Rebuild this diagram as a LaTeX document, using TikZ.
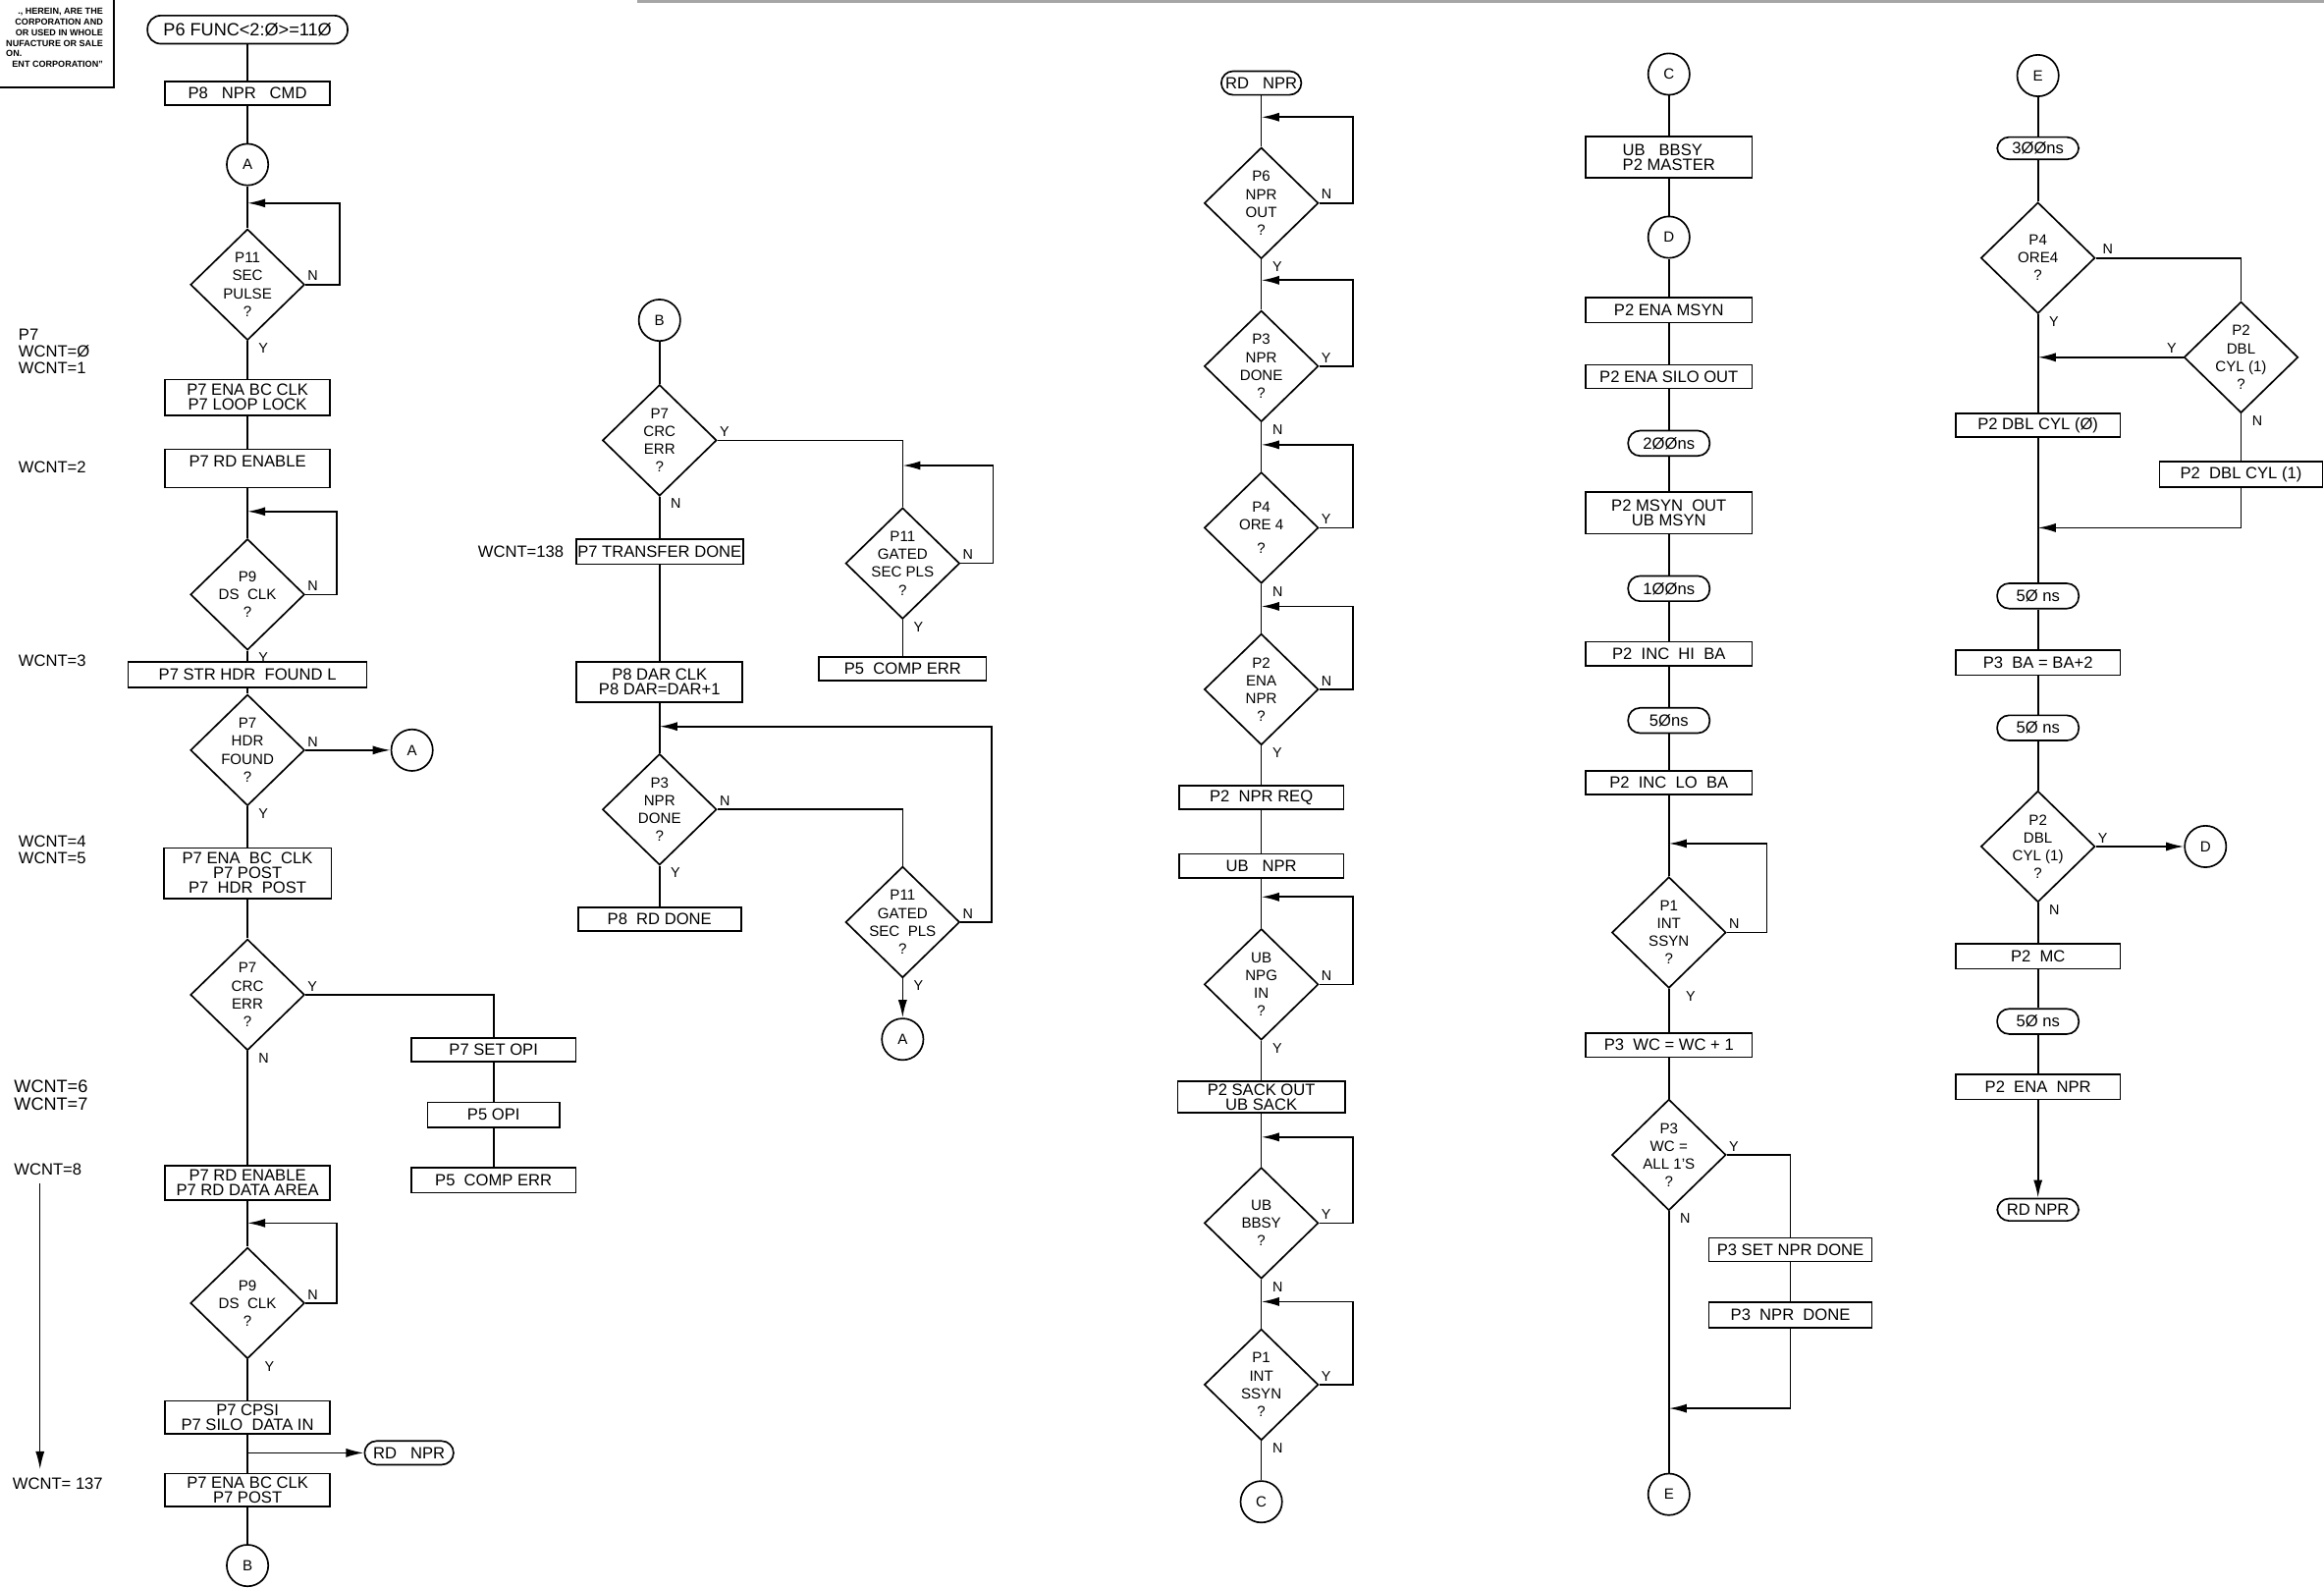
\documentclass[tikz,border=0pt]{standalone}
\usepackage{fontspec}
\setmainfont{Liberation Sans}
\usetikzlibrary{shapes.geometric,arrows.meta,positioning}

\begin{document}
\begin{tikzpicture}[
  x=1pt, y=-1pt, line width=1.1pt,
  blk/.style={draw, font=\fontsize{11}{10}\selectfont, minimum width=111pt, minimum height=17pt, inner sep=1pt, align=center},
  dec/.style={draw, diamond, aspect=1, font=\fontsize{10}{12}\selectfont, minimum width=77pt, minimum height=75pt, inner xsep=-12pt, inner ysep=-6pt, align=center},
  term/.style={draw, rounded corners=8pt, font=\fontsize{11}{10}\selectfont, minimum width=55pt, minimum height=17pt, inner sep=1pt},
  conn/.style={draw, circle, font=\fontsize{10}{10}\selectfont, minimum size=28pt, inner sep=0pt},
  arr/.style={-{Latex[length=12pt,width=6pt]}},
  lbl/.style={font=\fontsize{9.5}{9.5}\selectfont, inner sep=1pt},
  lbe/.style={lbl, anchor=south west, yshift=1pt},
  lbs/.style={lbl, anchor=north west, xshift=6pt},
  lbw/.style={lbl, anchor=south east, yshift=1pt},
  note/.style={font=\fontsize{11}{11}\selectfont, anchor=west, align=left, inner sep=0pt}
]
\useasboundingbox (0,0) rectangle (1568,1071);

% Proprietary notice (cut off at the sheet edge)
\draw (77,0) -- (77,59) -- (0,59);
\node[font=\fontsize{6}{7.2}\selectfont\bfseries, anchor=north east, inner sep=0pt] (legal) at (70,4)
  {\begin{tabular}{@{}r@{}}., HEREIN, ARE THE\\CORPORATION AND\\OR USED IN WHOLE\\NUFACTURE OR SALE\\\multicolumn{1}{@{}l@{}}{ON.}\\ENT CORPORATION"\end{tabular}};
\draw[gray!70, line width=2pt] (430,1) -- (1568,1);

% Column 1: header search and data read
\node[term, minimum width=135pt, minimum height=19pt, rounded corners=9pt, font=\fontsize{12}{12}\selectfont] (func) at (167,20) {P6 FUNC<2:Ø>=11Ø};
\node[blk, minimum height=16pt] (nprcmd) at (167,63) {P8\ \ \ NPR\ \ \ CMD};
\node[conn] (a1) at (167,111) {A};
\coordinate (j1) at (167,137);
\node[dec] (secpls) at (167,192) {P11\\SEC\\PULSE\\?};
\node[blk, minimum height=24pt] (lplock) at (167,268) {P7 ENA BC CLK\\P7 LOOP LOCK};
\node[blk, minimum height=26pt] (rden1) at (167,316) {P7 RD ENABLE\\\mbox{}};
\coordinate (j2) at (167,345);
\node[dec] (dsclk1) at (167,401) {P9\\DS\ \ CLK\\?};
\node[blk, minimum width=161pt] (strhdr) at (167,455) {P7 STR HDR\ \ FOUND L};
\node[dec] (hdrfnd) at (167,506) {P7\\HDR\\FOUND\\?};
\node[conn] (a2) at (278,506) {A};
\node[blk, minimum width=113pt, minimum height=34pt] (hdrpost) at (167,589) {P7 ENA\ \ BC\ \ CLK\\P7 POST\\P7\ \ HDR\ \ POST};
\node[dec] (crc1) at (167,671) {P7\\CRC\\ERR\\?};
\node[blk, minimum height=16pt] (setopi) at (333,708) {P7 SET OPI};
\node[blk, minimum width=89pt] (opi) at (333,752) {P5 OPI};
\node[blk] (comperr1) at (333,796) {P5\ \ COMP ERR};
\node[blk, minimum height=23pt] (rdarea) at (167,798) {P7 RD ENABLE\\P7 RD DATA AREA};
\coordinate (j3) at (167,825);
\node[dec] (dsclk2) at (167,879) {P9\\DS\ \ CLK\\?};
\node[blk, minimum height=22pt] (silo) at (167,956) {P7 CPSI\\P7 SILO\ \ DATA IN};
\coordinate (j4) at (167,980);
\node[term, minimum width=60pt, minimum height=16pt] (rdnpr1) at (276,980) {RD\ \ \ NPR};
\node[blk, minimum height=22pt] (post) at (167,1005) {P7 ENA BC CLK\\P7 POST};
\node[conn] (b1) at (167,1056) {B};

\foreach \u/\v in {func/nprcmd, nprcmd/a1, a1/secpls, secpls/lplock, lplock/rden1, rden1/dsclk1,
  dsclk1/strhdr, strhdr/hdrfnd, hdrfnd/hdrpost, hdrpost/crc1, crc1/rdarea, rdarea/dsclk2,
  dsclk2/silo, silo/post, post/b1, setopi/opi, opi/comperr1}
  \draw (\u) -- (\v);
\draw[arr] (secpls.east) -- ++(23,0) |- (j1);
\draw[arr] (dsclk1.east) -- ++(21,0) |- (j2);
\draw[arr] (dsclk2.east) -- ++(21,0) |- (j3);
\draw[arr] (hdrfnd.east) -- (a2.west);
\draw (crc1.east) -| (setopi.north);
\draw[arr] (j4) -- (rdnpr1.west);

\node[lbe] (secplsn) at (secpls.east) {N};
\node[lbs] (secplsy) at (secpls.south) {Y};
\node[lbe] (dsclk1n) at (dsclk1.east) {N};
\node[lbs] (dsclk1y) at (dsclk1.south) {Y};
\node[lbe] (hdrfndn) at (hdrfnd.east) {N};
\node[lbs] (hdrfndy) at (hdrfnd.south) {Y};
\node[lbe] (crc1y) at (crc1.east) {Y};
\node[lbs] (crc1n) at (crc1.south) {N};
\node[lbe] (dsclk2n) at (dsclk2.east) {N};
\node[lbs, xshift=4pt] (dsclk2y) at (dsclk2.south) {Y};

% Word count notes
\node[note] (wc01) at (12,237) {P7\\WCNT=Ø\\WCNT=1};
\node[note] (wc2) at (12,315) {WCNT=2};
\node[note] (wc3) at (12,446) {WCNT=3};
\node[note] (wc45) at (12,573) {WCNT=4\\WCNT=5};
\node[note, font=\fontsize{12}{12}\selectfont] (wc67) at (9,739) {WCNT=6\\WCNT=7};
\node[note] (wc8) at (9,789) {WCNT=8};
\node[note] (wc137) at (8,1001) {WCNT= 137};
\coordinate (w1) at (27,798);
\coordinate (w2) at (27,991);
\draw[arr, line width=0.8pt] (w1) -- (w2);

% Column 2: end of sector
\node[conn] (b2) at (445,216) {B};
\node[dec] (crc2) at (445,297) {P7\\CRC\\ERR\\?};
\node[note] (wc138) at (322,372) {WCNT=138};
\node[blk, minimum width=112pt, minimum height=17pt] (xferdone) at (445,372) {P7 TRANSFER DONE};
\node[blk, minimum width=112pt, minimum height=27pt] (darclk) at (445,460) {P8 DAR CLK\\P8 DAR=DAR+1};
\coordinate (j6) at (445,490);
\node[dec] (nprdn1) at (445,546) {P3\\NPR\\DONE\\?};
\node[blk, minimum width=110pt, minimum height=16pt] (rddone) at (445,620) {P8\ \ RD DONE};
\coordinate (j5) at (609,314);
\node[dec] (gated1) at (609,380) {P11\\GATED\\SEC PLS\\?};
\node[blk, minimum width=113pt, minimum height=16pt] (comperr2) at (609,451) {P5\ \ COMP ERR};
\node[dec] (gated2) at (609,622) {P11\\GATED\\SEC\ \ PLS\\?};
\node[conn] (a3) at (609,701) {A};

\foreach \u/\v in {b2/crc2, crc2/xferdone, xferdone/darclk, darclk/nprdn1, nprdn1/rddone, gated1/comperr2}
  \draw (\u) -- (\v);
\draw (crc2.east) -| (gated1.north);
\draw[arr] (gated1.east) -- ++(22,0) |- (j5);
\draw (nprdn1.east) -| (gated2.north);
\draw[arr] (gated2.east) -- ++(21,0) |- (j6);
\draw[arr] (gated2) -- (a3);

\node[lbe] (crc2y) at (crc2.east) {Y};
\node[lbs] (crc2n) at (crc2.south) {N};
\node[lbe] (gated1n) at (gated1.east) {N};
\node[lbs] (gated1y) at (gated1.south) {Y};
\node[lbe] (nprdn1n) at (nprdn1.east) {N};
\node[lbs] (nprdn1y) at (nprdn1.south) {Y};
\node[lbe] (gated2n) at (gated2.east) {N};
\node[lbs] (gated2y) at (gated2.south) {Y};

% Column 3: NPR request
\node[term, minimum width=54pt, minimum height=16pt] (rdnpr2) at (851,56) {RD\ \ \ NPR};
\coordinate (k1) at (851,79);
\node[dec] (nprout) at (851,137) {P6\\NPR\\OUT\\?};
\coordinate (k2) at (851,189);
\node[dec] (nprdn2) at (851,247) {P3\\NPR\\DONE\\?};
\coordinate (k3) at (851,300);
\node[dec] (ore1) at (851,356) {P4\\ORE 4\\[4pt]?};
\coordinate (k4) at (851,409);
\node[dec] (enanpr1) at (851,465) {P2\\ENA\\NPR\\?};
\node[blk, minimum height=16pt] (nprreq) at (851,538) {P2\ \ NPR REQ};
\node[blk, minimum height=16pt] (ubnpr) at (851,584) {UB\ \ \ NPR};
\coordinate (k5) at (851,605);
\node[dec] (npgin) at (851,664) {UB\\NPG\\IN\\?};
\node[blk, minimum width=113pt, minimum height=21pt] (sack) at (851,740) {P2 SACK OUT\\UB SACK};
\coordinate (k6) at (851,767);
\node[dec] (bbsy) at (851,825) {UB\\BBSY\\?};
\coordinate (k7) at (851,878);
\node[dec] (ssyn1) at (851,934) {P1\\INT\\SSYN\\?};
\node[conn] (c1) at (851,1013) {C};

\foreach \u/\v in {rdnpr2/nprout, nprout/nprdn2, nprdn2/ore1, ore1/enanpr1, enanpr1/nprreq,
  nprreq/ubnpr, ubnpr/npgin, npgin/sack, sack/bbsy, bbsy/ssyn1, ssyn1/c1}
  \draw (\u) -- (\v);
\draw[arr] (nprout.east) -- ++(23,0) |- (k1);
\draw[arr] (nprdn2.east) -- ++(23,0) |- (k2);
\draw[arr] (ore1.east) -- ++(23,0) |- (k3);
\draw[arr] (enanpr1.east) -- ++(23,0) |- (k4);
\draw[arr] (npgin.east) -- ++(23,0) |- (k5);
\draw[arr] (bbsy.east) -- ++(23,0) |- (k6);
\draw[arr] (ssyn1.east) -- ++(23,0) |- (k7);

\node[lbe] (noutn) at (nprout.east) {N};
\node[lbs] (nouty) at (nprout.south) {Y};
\node[lbe] (ndn2y) at (nprdn2.east) {Y};
\node[lbs] (ndn2n) at (nprdn2.south) {N};
\node[lbe] (ore1y) at (ore1.east) {Y};
\node[lbs] (ore1n) at (ore1.south) {N};
\node[lbe] (ena1n) at (enanpr1.east) {N};
\node[lbs] (ena1y) at (enanpr1.south) {Y};
\node[lbe] (npgn) at (npgin.east) {N};
\node[lbs] (npgy) at (npgin.south) {Y};
\node[lbe] (bbsyy) at (bbsy.east) {Y};
\node[lbs] (bbsyn) at (bbsy.south) {N};
\node[lbe] (ssyn1y) at (ssyn1.east) {Y};
\node[lbs] (ssyn1n) at (ssyn1.south) {N};

% Column 4: bus master transfer
\node[conn] (c2) at (1126,50) {C};
\node[blk, minimum width=112pt, minimum height=28pt, align=left] (master) at (1126,106) {UB\ \ \ BBSY\\P2 MASTER};
\node[conn] (dd1) at (1126,160) {D};
\node[blk, minimum width=112pt] (enamsyn) at (1126,209) {P2 ENA MSYN};
\node[blk, minimum width=112pt, minimum height=16pt] (silout) at (1126,254) {P2 ENA SILO OUT};
\node[term] (ns200) at (1126,299) {2ØØns};
\node[blk, minimum width=112pt, minimum height=28pt] (msyn) at (1126,346) {P2 MSYN\ \ OUT\\UB MSYN};
\node[term] (ns100) at (1126,397) {1ØØns};
\node[blk, minimum width=112pt, minimum height=16pt] (inchi) at (1126,441) {P2\ \ INC\ \ HI\ \ BA};
\node[term] (ns50a) at (1126,486) {5Øns};
\node[blk, minimum width=112pt, minimum height=16pt] (inclo) at (1126,528) {P2\ \ INC\ \ LO\ \ BA};
\coordinate (m1) at (1126,569);
\node[dec] (ssyn2) at (1126,629) {P1\\INT\\SSYN\\?};
\node[blk, minimum width=112pt, minimum height=16pt] (wcinc) at (1126,705) {P3\ \ WC = WC + 1};
\node[dec] (allones) at (1126,779) {P3\\WC =\\ALL 1'S\\?};
\node[blk, minimum width=110pt, minimum height=16pt] (setdone) at (1208,843) {P3 SET NPR DONE};
\node[blk, minimum width=110pt, minimum height=17pt] (nprdn3) at (1208,887) {P3\ \ NPR\ \ DONE};
\coordinate (m2) at (1126,950);
\node[conn] (e1) at (1126,1008) {E};

\foreach \u/\v in {c2/master, master/dd1, dd1/enamsyn, enamsyn/silout, silout/ns200, ns200/msyn,
  msyn/ns100, ns100/inchi, inchi/ns50a, ns50a/inclo, inclo/ssyn2, ssyn2/wcinc, wcinc/allones,
  allones/e1, setdone/nprdn3}
  \draw (\u) -- (\v);
\draw[arr] (ssyn2.east) -- ++(27,0) |- (m1);
\draw (allones.east) -| (setdone.north);
\draw[arr] (nprdn3.south) |- (m2);

\node[lbe] (ssyn2n) at (ssyn2.east) {N};
\node[lbs, xshift=4pt] (ssyn2y) at (ssyn2.south) {Y};
\node[lbe] (allonesy) at (allones.east) {Y};
\node[lbs] (allonesn) at (allones.south) {N};

% Column 5: double cylinder and address update
\node[conn] (e2) at (1375,51) {E};
\node[term, minimum height=15pt] (ns300) at (1375,100) {3ØØns};
\node[dec] (ore2) at (1375,174) {P4\\ORE4\\?};
\node[dec] (dbl1) at (1512,241) {P2\\DBL\\CYL (1)\\?};
\coordinate (q1) at (1375,241);
\node[blk, minimum height=16pt] (dblzero) at (1375,287) {P2 DBL CYL (Ø)};
\node[blk, minimum width=110pt] (dblone) at (1512,320) {P2\ \ DBL CYL (1)};
\coordinate (q2) at (1375,356);
\node[term] (ns50b) at (1375,402) {5Ø ns};
\node[blk] (baadd) at (1375,447) {P3\ \ BA = BA+2};
\node[term] (ns50c) at (1375,491) {5Ø ns};
\node[dec] (dbl2) at (1375,571) {P2\\DBL\\CYL (1)\\?};
\node[conn] (dd2) at (1488,571) {D};
\node[blk] (mc) at (1375,645) {P2\ \ MC};
\node[term] (ns50d) at (1375,689) {5Ø ns};
\node[blk] (enanpr2) at (1375,733) {P2\ \ ENA\ \ NPR};
\node[term, minimum height=15pt] (rdnpr3) at (1375,816) {RD NPR};

\foreach \u/\v in {e2/ns300, ns300/ore2, ore2/dblzero, dblzero/ns50b, ns50b/baadd, baadd/ns50c,
  ns50c/dbl2, dbl2/mc, mc/ns50d, ns50d/enanpr2, dbl1/dblone}
  \draw (\u) -- (\v);
\draw (ore2.east) -| (dbl1.north);
\draw[arr] (dbl1.west) -- (q1);
\draw[arr] (dblone.south) |- (q2);
\draw[arr] (dbl2.east) -- (dd2.west);
\draw[arr] (enanpr2) -- (rdnpr3);

\node[lbe, xshift=3pt] (ore2n) at (ore2.east) {N};
\node[lbs] (ore2y) at (ore2.south) {Y};
\node[lbw, xshift=-3pt] (dbl1y) at (dbl1.west) {Y};
\node[lbs] (dbl1n) at (dbl1.south) {N};
\node[lbe] (dbl2y) at (dbl2.east) {Y};
\node[lbs] (dbl2n) at (dbl2.south) {N};
\end{tikzpicture}
\end{document}
